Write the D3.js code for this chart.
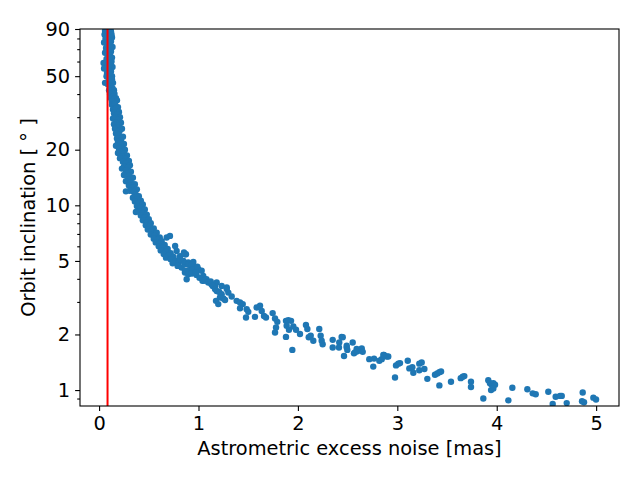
<!DOCTYPE html>
<html>
<head>
<meta charset="utf-8">
<script src="https://cdn.jsdelivr.net/npm/d3@7"></script>
<style>
  body { margin: 0; background: #fff; }
  svg text { font-family: 'DejaVu Sans', sans-serif; fill: #000; }
</style>
</head>
<body>
<div id="graf"></div>
<script>
// [excess noise (mas), inclination (deg)]
const bandTop = [
  [0.07,89],[0.10,88],[0.12,87],[0.085,86],[0.055,84],[0.11,83],[0.13,81],[0.065,80],
  [0.095,79],[0.12,77],[0.05,76],[0.08,75],[0.105,74],[0.135,72],[0.07,71],[0.095,70],
  [0.12,68],[0.06,67],[0.085,66],[0.11,65],[0.13,63],[0.075,62],[0.10,61],[0.125,60],
  [0.045,59],[0.09,58],[0.115,57],[0.135,56],[0.07,55],[0.10,54],[0.12,53],[0.08,52],
  [0.11,51],[0.13,50],[0.095,49],[0.06,46],[0.05,55],[0.10,48],[0.12,47],[0.14,46],
  [0.09,45],[0.115,44],[0.135,43],[0.15,42],[0.10,42],[0.125,41],[0.155,40],[0.11,40],
  [0.14,39],[0.17,38],[0.12,38],[0.15,37.5],[0.18,37],[0.13,36.5],
  [0.09,90],[0.115,89.5],[0.06,88],[0.08,82],[0.125,84],[0.10,76],[0.115,71],[0.08,69],
  [0.105,63],[0.09,56],[0.11,59],[0.075,50],[0.13,48]
]
const bandMid = [
  [0.13,35],[0.16,35.5],[0.19,34],[0.14,33],[0.17,33.5],[0.20,32],[0.15,31.5],[0.18,31],
  [0.21,30],[0.16,30],[0.14,29.5],[0.19,29],[0.22,28],[0.17,28],[0.15,27.5],[0.20,27],
  [0.18,26.5],[0.23,26],[0.16,26],[0.21,25.5],[0.19,25],
  [0.17,24.5],[0.20,24],[0.24,23.5],[0.18,23],[0.22,22.5],[0.19,22],[0.25,21.5],[0.21,21.5],
  [0.17,21],[0.23,20.5],[0.20,20.3],[0.26,20],[0.22,19.5],[0.19,19.2],[0.25,19],[0.28,18.6],
  [0.23,18.4],[0.21,18],[0.27,17.8],[0.30,17.4],
  [0.24,17.2],[0.27,16.9],[0.31,16.5],[0.25,16.2],[0.29,16],[0.23,15.8],[0.27,15.5],[0.32,15.2],
  [0.28,14.9],[0.25,14.6],[0.30,14.4],[0.34,14.1],[0.29,13.8],[0.27,13.5],[0.32,13.3],[0.36,13],
  [0.30,12.8],[0.34,12.5],[0.38,12.2],[0.31,12],[0.35,11.8],[0.27,11.9],[0.37,11.4],[0.40,11.2],
  [0.34,11],[0.38,10.8],[0.42,10.6],
  [0.36,10.5],[0.40,10.3],[0.44,10.1],[0.38,9.9],[0.42,9.7],[0.46,9.5],[0.40,9.3],[0.44,9.1],
  [0.48,8.9],[0.42,8.8],[0.46,8.6],[0.50,8.4],[0.44,8.3],[0.48,8.1],[0.52,8.0],[0.47,7.8],
  [0.51,7.7],[0.55,7.5],[0.49,7.4],[0.53,7.3],[0.37,9.2]
]
const bandLow = [
  [0.54,7.2],[0.58,7.1],[0.52,6.95],[0.56,6.85],[0.61,6.7],[0.55,6.6],[0.59,6.5],[0.63,6.4],
  [0.57,6.3],[0.61,6.2],[0.66,6.1],[0.60,6.0],[0.64,5.9],[0.69,5.8],[0.62,5.7],[0.67,5.6],
  [0.72,5.5],[0.65,5.45],[0.70,5.35],[0.75,5.25],[0.68,6.69],[0.713,6.83],[0.765,6.02],
  [0.78,5.66],[0.814,5.31],[0.854,5.55],[0.874,5.43],[0.673,5.21],
  [0.72,5.1],[0.77,5.0],[0.74,4.85],[0.80,4.9],[0.897,4.90],[0.931,4.70],[0.948,4.94],
  [0.965,4.60],[0.864,4.33],[0.881,3.98],[0.998,4.51],[1.048,4.15],[1.08,3.98],[1.13,3.74],
  [1.166,3.66],[1.183,3.82],[1.233,3.66],[1.284,3.59],[0.79,4.7],[0.83,4.6],[0.86,4.8],
  [0.90,4.45],[0.94,4.3],[0.98,4.2],[1.01,4.05],[1.04,3.9],[1.10,3.85],
  [0.864,5.43],[0.848,5.0],[0.897,4.79],[0.94,4.69],[0.864,4.42],[0.897,4.24],[0.93,4.33],
  [0.814,5.11]
]
const tail = [
  [0.931,4.79],[0.942,4.51],[0.931,4.27],[0.988,4.66],[0.975,4.33],[1.032,4.42],[1.055,3.90],
  [1.099,3.82],[1.123,3.87],[1.143,3.66],[1.166,3.52],[1.183,3.44],[1.209,3.40],[1.233,3.30],
  [1.176,3.04],[1.199,2.92],[1.216,3.17],[1.25,3.13],[1.284,3.52],[1.30,3.37],[1.334,3.21],
  [1.267,3.07],[1.384,3.04],[1.418,2.98],[1.445,2.92],[1.418,2.77],[1.485,2.74],[1.501,2.65],
  [1.478,2.47],[1.568,2.49],[1.585,2.80],[1.619,2.86],[1.636,2.68],[1.659,2.52],[1.679,2.47],
  [1.746,2.61],[1.770,2.44],[1.793,2.34],[1.780,2.18],[1.770,2.05],[1.880,2.37],[1.904,2.39],
  [1.931,2.37],[1.887,2.23],[1.910,2.12],[1.954,2.21],[1.981,2.12],[2.021,2.01],[1.880,1.94],
  [1.944,1.65],[2.081,2.25],[2.095,2.14],[2.109,1.93],[2.129,1.97],[2.155,1.85],[2.215,2.14],
  [2.229,1.97],[2.249,1.77],[2.239,1.85],[2.35,1.87],[2.35,1.70],[2.416,1.81],[2.44,1.94],
  [2.413,1.70],[2.464,1.53],[2.491,1.70],[2.551,1.81],[2.564,1.58],[2.591,1.67],[2.642,1.68],
  [2.652,1.61],[2.718,1.47],[2.766,1.48],[2.758,1.34],[2.819,1.44],[2.859,1.55],[2.893,1.52],
  [2.451,1.93],[2.491,1.74],[2.497,1.65],[2.574,1.60],[2.598,1.62],[2.909,1.52],
  [2.843,1.47],[2.866,1.55],[2.987,1.36],[3.010,1.39],[3.027,1.40],[2.977,1.17],[3.105,1.44],
  [3.121,1.31],[3.151,1.33],[3.161,1.24],[3.221,1.39],[3.245,1.41],[3.221,1.28],[3.272,1.30],
  [3.302,1.15],[3.379,1.21],[3.402,1.23],[3.423,1.25],[3.44,1.26],[3.423,1.06],[3.54,1.11],
  [3.638,1.16],[3.658,1.18],[3.674,1.19],[3.741,1.11],[3.741,1.04],[3.865,0.90],[3.915,1.13],
  [3.932,1.09],[3.949,1.07],[3.966,1.09],[3.983,1.07],[3.943,1.00],[3.966,1.02],[4.117,0.88],
  [4.157,1.03],[4.308,1.01],[4.362,0.96],[4.392,0.95],[4.519,0.98],[4.563,0.84],[4.593,0.92],
  [4.637,0.93],[4.654,0.93],[4.704,0.85],[4.865,0.97],[4.858,0.87],[4.878,0.86],[4.972,0.91],
  [4.999,0.89]
]
const noiseLimit = 0.085
const xTicks = [0, 1, 2, 3, 4, 5]
const yTicks = [1, 2, 5, 10, 20, 50, 90]
const yMinor = [0.9, 3, 4, 6, 7, 8, 9, 30, 40, 60, 70, 80]
const xLabel = 'Astrometric excess noise [mas]'
const yLabel = 'Orbit inclination [ ° ]'

const anchoTotal = 640
const altoTotal = 480
const margin = { top: 29, bottom: 74, left: 80, right: 21 }
const ancho = anchoTotal - margin.left - margin.right
const alto = altoTotal - margin.top - margin.bottom

const svg = d3.select('#graf')
  .append('svg')
  .attr('width', anchoTotal)
  .attr('height', altoTotal)

const g = svg.append('g')
  .attr('transform', `translate(${margin.left}, ${margin.top})`)

const x = d3.scaleLinear().domain([-0.192, 5.23]).range([0, ancho])
const y = d3.scaleLog().domain([0.82, 90]).range([alto, 0])

g.append('clipPath').attr('id', 'clip')
  .append('rect').attr('width', ancho).attr('height', alto)

const datos = [...bandTop, ...bandMid, ...bandLow, ...tail]

g.append('g')
  .attr('clip-path', 'url(#clip)')
  .selectAll('circle')
  .data(datos)
  .join('circle')
  .attr('cx', (d) => x(d[0]))
  .attr('cy', (d) => y(d[1]))
  .attr('r', 3.2)
  .attr('fill', '#1f77b4')

g.append('line')
  .attr('x1', x(noiseLimit)).attr('x2', x(noiseLimit))
  .attr('y1', 0).attr('y2', alto)
  .attr('stroke', 'red')
  .attr('stroke-width', 2)

// ejes
g.append('g')
  .attr('transform', `translate(0, ${alto})`)
  .call(d3.axisBottom(x).tickValues(xTicks).tickSize(4.9).tickPadding(4.9).tickFormat(d3.format('d')))

g.append('g')
  .call(d3.axisLeft(y).tickValues(yTicks).tickSize(4.9).tickPadding(4.9).tickFormat(d3.format('d')))

g.append('g')
  .call(d3.axisLeft(y).tickValues(yMinor).tickSize(2.8).tickFormat(''))

g.selectAll('.domain').remove()
g.selectAll('.tick line').attr('stroke', '#000').attr('stroke-width', 1.1)
g.selectAll('.tick text')
  .style('font-family', "'DejaVu Sans', sans-serif")
  .style('font-size', '19.4px')
  .attr('fill', '#000')

g.append('rect')
  .attr('width', ancho).attr('height', alto)
  .attr('fill', 'none')
  .attr('stroke', '#000')
  .attr('stroke-width', 1.1)

svg.append('text')
  .attr('x', margin.left + ancho / 2)
  .attr('y', 455)
  .attr('text-anchor', 'middle')
  .style('font-size', '19.4px')
  .text(xLabel)

svg.append('text')
  .attr('transform', `translate(35, ${margin.top + alto / 2}) rotate(-90)`)
  .attr('text-anchor', 'middle')
  .style('font-size', '19.4px')
  .text(yLabel)
</script>
</body>
</html>
